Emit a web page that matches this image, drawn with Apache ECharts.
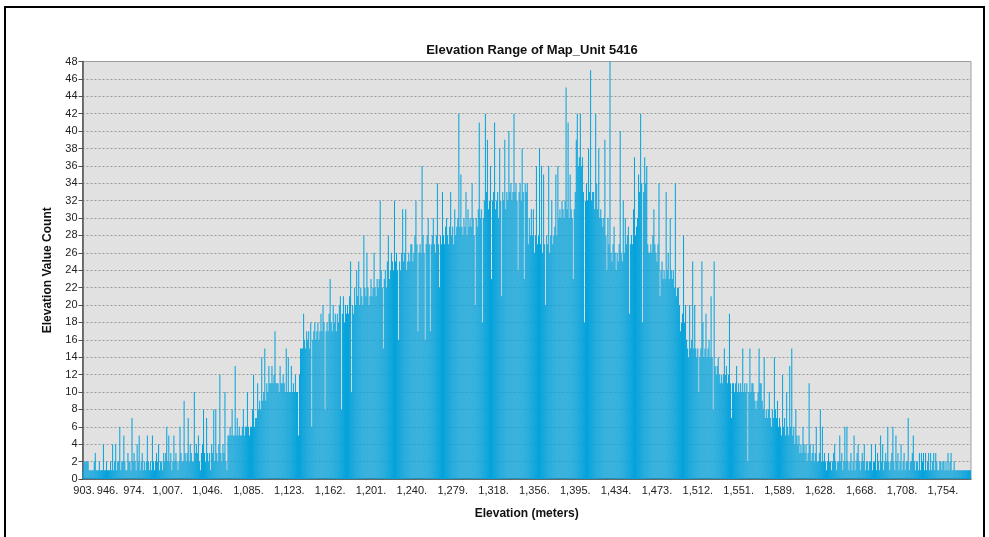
<!DOCTYPE html>
<html>
<head>
<meta charset="utf-8">
<script src="https://cdn.jsdelivr.net/npm/echarts@6/dist/echarts.min.js"></script>
<style>
html,body{margin:0;padding:0;background:#fff;}
#chart{width:989px;height:537px;}
</style>
</head>
<body>
<div id="chart"></div>
<script>
// Elevation value counts, one per histogram bin (left to right)
const counts = [
1,2,2,2,2,2,1,1,1,1, 1,2,3,1,1,1,2,1,1,1, 4,1,1,2,1,1,1,2,1,4, 1,2,4,1,2,2,6,1,2,2,
5,2,1,1,3,2,2,1,7,2, 3,2,1,4,2,5,1,2,3,1, 2,1,2,5,2,1,2,1,5,2, 1,2,3,2,4,1,2,2,1,3,
2,3,6,2,5,2,3,1,2,5, 2,3,2,1,2,6,3,2,2,9, 3,2,3,7,2,4,3,2,2,10, 3,4,3,5,2,1,3,4,8,3,
2,7,3,2,3,1,4,3,8,2, 8,3,2,4,12,3,2,4,3,10, 2,1,5,5,6,5,8,5,5,13, 5,7,5,6,5,5,6,8,5,6,
6,10,6,5,6,6,8,12,6,7, 7,11,8,9,8,14,9,10,15,9, 11,10,13,11,11,13,11,12,17,11, 11,11,10,13,11,11,12,11,10,15,
10,14,10,10,13,10,11,10,12,10, 10,5,12,15,15,15,19,16,15,17,
16,17,15,18,6,16,17,18,16,17, 18,16,17,19,17,20,18,8,17,18, 17,19,23,18,17,20,18,19,17,19, 18,20,21,8,19,21,18,20,19,20,
19,21,25,10,20,19,22,20,24,21, 25,20,22,21,20,28,22,21,26,22, 20,21,23,21,22,26,22,21,23,22, 23,32,24,22,15,23,24,22,25,28,
23,24,26,25,24,32,25,26,24,16, 25,24,26,31,25,26,31,24,25,26, 25,27,27,25,26,28,32,27,17,26, 27,26,36,28,26,16,27,28,30,27,
17,27,28,30,27,26,28,34,27,22, 28,27,33,28,27,29,30,28,27,29, 33,28,29,27,31,28,29,30,42,29, 35,29,28,30,29,33,28,31,29,30,
29,34,30,28,20,30,29,31,41,30, 31,18,30,32,42,33,39,31,32,36, 23,32,33,41,31,32,33,30,38,32, 21,33,32,39,31,33,32,40,33,34,
32,33,42,33,34,32,24,33,34,32, 38,33,23,34,33,34,27,30,28,31,
28,31,26,28,36,27,28,38,27,36, 26,35,27,20,28,27,36,26,28,32, 27,28,29,35,28,36,30,31,30,32, 31,30,32,45,31,41,30,35,31,30,
23,31,33,39,42,36,37,42,36,37, 33,18,32,34,32,38,33,47,32,33, 33,31,42,34,31,38,30,31,30,29, 30,39,28,24,30,27,48,26,25,27,
29,26,24,26,25,27,40,26,25,32, 26,30,27,28,29,19,27,28,27,31, 37,28,29,30,35,33,42,34,18,33, 37,34,36,27,26,26,27,26,28,31,
27,26,25,27,34,21,24,25,23,24, 23,33,24,26,23,30,24,23,24,22, 34,21,22,22,20,17,18,19,28,18, 20,16,15,14,20,15,16,25,15,20,
15,14,15,10,14,15,25,18,14,15, 19,14,15,16,14,21,14,8,25,13, 12,13,14,12,11,12,11,12,15,12, 13,11,12,19,11,7,11,11,10,11,
13,10,11,10,11,10,15,10,11,10, 11,2,10,15,10,11,11,10,9,8,
9,10,15,11,11,9,8,14,7,8, 7,8,10,7,6,8,7,14,8,7, 9,6,7,6,5,12,6,7,5,10, 6,5,13,6,15,5,6,4,8,5,
4,5,3,4,3,6,4,3,4,2, 3,11,4,2,3,4,2,3,6,2, 2,3,8,2,6,2,3,2,1,2, 3,2,2,1,2,3,4,2,1,2,
2,5,2,3,1,2,6,2,6,2, 1,2,3,1,2,5,1,2,3,4, 2,1,2,3,2,4,1,2,2,1, 2,2,4,1,2,2,4,1,3,2,
1,5,2,4,1,2,3,2,6,2, 1,2,3,6,2,1,5,2,3,1, 2,4,1,2,3,1,2,2,7,1, 2,2,3,5,2,1,2,2,1,3,
1,3,2,3,1,3,1,2,3,1, 3,1,2,3,1,3,2,1,1,2, 2,1,2,2,1,2,1,3,1,2, 3,1,1,2,1,1,1,1,1,1,
1,1,1,1,1,1,1,1,1,1
];

// Elevation tick labels shown under the axis, and the bin each one belongs to
const tickLabels = ['903.','946.','974.','1,007.','1,046.','1,085.','1,123.','1,162.','1,201.','1,240.','1,279.','1,318.','1,356.','1,395.','1,434.','1,473.','1,512.','1,551.','1,589.','1,628.','1,668.','1,708.','1,754.'];
const tickBins = [1,24,50,83,122,162,202,242,282,322,362,402,442,482,522,562,602,642,682,722,762,802,842];

const yTicks = {min:0, max:48, interval:2};

const labelAt = {};
tickBins.forEach((b, k) => { labelAt[b] = tickLabels[k]; });
const categories = counts.map((_, i) => labelAt[i] !== undefined ? labelAt[i] : '');
const isTick = (idx) => labelAt[idx] !== undefined;

const chart = echarts.init(document.getElementById('chart'), null, {renderer:'canvas'});
const font = 'Liberation Sans, Arial, sans-serif';
chart.setOption({
  animation: false,
  backgroundColor: '#ffffff',
  title: {
    text: 'Elevation Range of Map_Unit 5416',
    left: 527, top: 39, textAlign: 'center',
    textStyle: {fontFamily: font, fontSize: 13, fontWeight: 'bold', color: '#111'}
  },
  grid: {left: 82.5, right: 18, top: 61.5, bottom: 58, containLabel: false,
         show: true, backgroundColor: '#e1e1e1', borderColor: '#a0a0a0', borderWidth: 1},
  xAxis: {
    type: 'category', data: categories, boundaryGap: true,
    name: 'Elevation (meters)', nameLocation: 'middle', nameGap: 29,
    nameTextStyle: {fontFamily: font, fontSize: 12, fontWeight: 'bold', color: '#111'},
    axisLine: {lineStyle: {color: '#505050', width: 1.5}},
    axisTick: {alignWithLabel: true, interval: (i) => isTick(i), length: 4, lineStyle: {color: '#505050'}},
    axisLabel: {interval: (i) => isTick(i), fontFamily: font, fontSize: 11, color: '#222', margin: 6, hideOverlap: false},
    splitLine: {show: false}
  },
  yAxis: {
    type: 'value', min: yTicks.min, max: yTicks.max, interval: yTicks.interval,
    name: 'Elevation Value Count', nameLocation: 'middle', nameGap: 29, nameRotate: 90,
    nameTextStyle: {fontFamily: font, fontSize: 12, fontWeight: 'bold', color: '#111'},
    axisLine: {show: true, lineStyle: {color: '#505050', width: 1.5}},
    axisTick: {show: true, length: 4, lineStyle: {color: '#505050'}},
    axisLabel: {fontFamily: font, fontSize: 11, color: '#222', margin: 5},
    splitLine: {show: true, lineStyle: {color: '#9a9a9a', type: [2, 2], width: 1}}
  },
  series: [{
    type: 'bar', data: counts, barCategoryGap: '0%', barGap: '0%',
    itemStyle: {color: '#05a3dc'},
    large: false
  }],
  graphic: [{
    type: 'rect', shape: {x: 5, y: 7, width: 979, height: 540},
    style: {fill: 'none', stroke: '#000', lineWidth: 2}, silent: true, z: 100
  }]
});
</script>
</body>
</html>
